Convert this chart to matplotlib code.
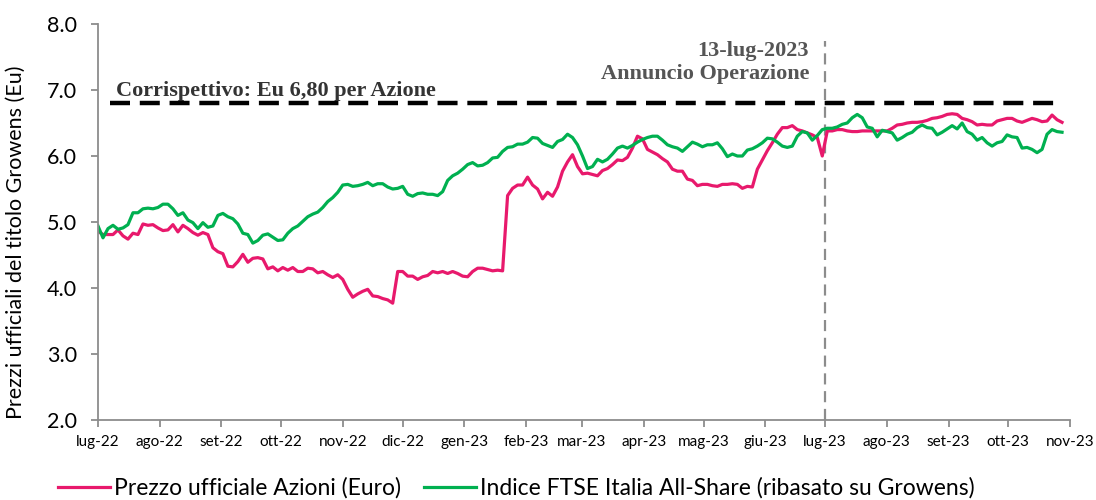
import matplotlib
matplotlib.use('Agg')
import matplotlib.pyplot as plt
import numpy as np
import pandas as pd

# values, one every ~2.5 days from 1 Jul 2022 to 28 Oct 2023
prezzo = [
    4.86, 4.81, 4.81, 4.81, 4.88, 4.79, 4.74, 4.83, 4.81, 4.97,
    4.95, 4.96, 4.91, 4.87, 4.88, 4.96, 4.85, 4.95, 4.90, 4.84,
    4.80, 4.84, 4.81, 4.61, 4.55, 4.52, 4.33, 4.32, 4.40, 4.51,
    4.39, 4.45, 4.46, 4.44, 4.29, 4.32, 4.26, 4.31, 4.27, 4.31,
    4.25, 4.25, 4.30, 4.29, 4.23, 4.25, 4.20, 4.16, 4.20, 4.13,
    3.98, 3.86, 3.91, 3.95, 3.98, 3.88, 3.87, 3.84, 3.82, 3.77,
    4.25, 4.25, 4.18, 4.18, 4.13, 4.17, 4.19, 4.25, 4.23, 4.25,
    4.22, 4.25, 4.22, 4.18, 4.17, 4.25, 4.30, 4.30, 4.28, 4.26,
    4.27, 4.26, 5.40, 5.51, 5.56, 5.56, 5.68, 5.56, 5.50, 5.35,
    5.45, 5.39, 5.53, 5.77, 5.91, 6.02, 5.84, 5.73, 5.74, 5.72,
    5.70, 5.78, 5.81, 5.87, 5.94, 5.93, 5.98, 6.12, 6.30, 6.26,
    6.10, 6.06, 6.02, 5.96, 5.91, 5.80, 5.77, 5.77, 5.65, 5.63,
    5.55, 5.57, 5.57, 5.55, 5.54, 5.57, 5.57, 5.58, 5.57, 5.51,
    5.54, 5.53, 5.80, 5.94, 6.08, 6.20, 6.33, 6.43, 6.43, 6.46,
    6.40, 6.38, 6.35, 6.32, 6.28, 6.00, 6.38, 6.38, 6.40, 6.40,
    6.38, 6.37, 6.37, 6.38, 6.38, 6.38, 6.38, 6.38, 6.38, 6.42,
    6.47, 6.48, 6.50, 6.51, 6.51, 6.52, 6.54, 6.57, 6.58, 6.60,
    6.63, 6.64, 6.63, 6.57, 6.55, 6.52, 6.47, 6.48, 6.47, 6.47,
    6.53, 6.55, 6.57, 6.57, 6.53, 6.51, 6.54, 6.57, 6.55, 6.52,
    6.53, 6.62, 6.55, 6.51,
]
ftse = [
    4.94, 4.76, 4.90, 4.95, 4.89, 4.91, 4.96, 5.14, 5.14, 5.20,
    5.21, 5.20, 5.22, 5.27, 5.27, 5.20, 5.10, 5.14, 5.03, 4.99,
    4.90, 4.99, 4.92, 4.94, 5.10, 5.13, 5.08, 5.05, 4.97, 4.83,
    4.81, 4.68, 4.72, 4.80, 4.82, 4.77, 4.72, 4.73, 4.83, 4.90,
    4.94, 5.01, 5.08, 5.12, 5.15, 5.22, 5.31, 5.37, 5.45, 5.56,
    5.57, 5.54, 5.55, 5.57, 5.60, 5.55, 5.58, 5.58, 5.53, 5.50,
    5.51, 5.54, 5.42, 5.39, 5.43, 5.44, 5.42, 5.42, 5.40, 5.46,
    5.63, 5.70, 5.74, 5.80, 5.87, 5.90, 5.85, 5.86, 5.90, 5.97,
    5.98, 6.07, 6.13, 6.14, 6.18, 6.18, 6.21, 6.28, 6.27, 6.19,
    6.16, 6.13, 6.22, 6.25, 6.33, 6.28, 6.17, 6.00, 5.81, 5.84,
    5.95, 5.91, 5.95, 6.03, 6.12, 6.15, 6.12, 6.16, 6.21, 6.25,
    6.28, 6.30, 6.30, 6.24, 6.17, 6.14, 6.12, 6.07, 6.14, 6.21,
    6.18, 6.14, 6.17, 6.17, 6.20, 6.11, 5.99, 6.03, 6.00, 6.00,
    6.09, 6.11, 6.15, 6.20, 6.27, 6.26, 6.21, 6.15, 6.13, 6.15,
    6.30, 6.37, 6.35, 6.24, 6.31, 6.40, 6.42, 6.42, 6.44, 6.48,
    6.50, 6.58, 6.63, 6.58, 6.44, 6.42, 6.29, 6.39, 6.37, 6.35,
    6.24, 6.28, 6.33, 6.36, 6.43, 6.47, 6.43, 6.42, 6.32, 6.36,
    6.41, 6.46, 6.41, 6.50, 6.37, 6.33, 6.24, 6.28, 6.20, 6.15,
    6.20, 6.22, 6.32, 6.29, 6.28, 6.12, 6.13, 6.10, 6.05, 6.10,
    6.33, 6.40, 6.37, 6.36,
]
mesi = ['lug-22', 'ago-22', 'set-22', 'ott-22', 'nov-22', 'dic-22', 'gen-23', 'feb-23',
        'mar-23', 'apr-23', 'mag-23', 'giu-23', 'lug-23', 'ago-23', 'set-23', 'ott-23', 'nov-23']
corrispettivo = 6.80

dates_p = pd.date_range('2022-07-01', '2023-10-28', periods=len(prezzo))
dates_f = pd.date_range('2022-07-01', '2023-10-28', periods=len(ftse))
month_ticks = pd.date_range('2022-07-01', '2023-11-01', freq='MS')

pink = '#E8196C'
green = '#00B050'
axis_grey = '#8C8C8C'

fig = plt.figure(figsize=(10.96, 5.0), dpi=100)
ax = fig.add_axes([98 / 1096, 80 / 500, 972 / 1096, 396 / 500])

ax.plot(dates_p, prezzo, color=pink, lw=2.3, label='Prezzo ufficiale Azioni (Euro)')
ax.plot(dates_f, ftse, color=green, lw=2.3, label='Indice FTSE Italia All-Share (ribasato su Growens)')

# offer price line
ax.hlines(corrispettivo, pd.Timestamp('2022-07-07'), dates_p[-1], colors='black',
          linestyles=(0, (4.5, 2.2)), lw=3.2, zorder=4)
ax.text(pd.Timestamp('2022-07-10'), corrispettivo + 0.04, 'Corrispettivo: Eu 6,80 per Azione',
        family='Liberation Serif', weight='bold', fontsize=16, color='#333333',
        ha='left', va='bottom')

# announcement marker, drawn at the lug-23 tick like the source chart
annuncio = pd.Timestamp('2023-07-01')
ax.vlines(annuncio, 2.0, 7.75, colors=axis_grey, linestyles=(0, (5, 3)), lw=1.6, zorder=1)
ax.text(annuncio - pd.Timedelta(days=8), 7.42, '13-lug-2023\nAnnuncio Operazione',
        family='Liberation Serif', weight='bold', fontsize=16, color='#555555',
        ha='right', va='center', multialignment='right', linespacing=1.2)

ax.set_xlim(month_ticks[0], month_ticks[-1])
ax.set_ylim(2.0, 8.0)
ax.set_yticks(np.arange(2.0, 8.01, 1.0))
ax.set_yticklabels([f'{v:.1f}' for v in np.arange(2.0, 8.01, 1.0)], family='Lato', fontsize=15.5)
ax.set_xticks(month_ticks)
ax.set_xticklabels(mesi, family='Lato', fontsize=11)
ax.set_ylabel('Prezzi ufficiali del titolo Growens (Eu)', family='Lato', fontsize=15.5)
ax.yaxis.set_label_coords(-0.074, 0.45)

for side in ['top', 'right']:
    ax.spines[side].set_visible(False)
for side in ['left', 'bottom']:
    ax.spines[side].set_color(axis_grey)
    ax.spines[side].set_linewidth(1.3)
ax.tick_params(axis='both', direction='out', color=axis_grey, width=1.3, length=5)
ax.tick_params(axis='y', pad=10)
ax.tick_params(axis='x', pad=6)

fig.legend(loc='center', bbox_to_anchor=(516 / 1096, 12 / 500), ncol=2, frameon=False,
           prop={'family': 'Lato', 'size': 16.5}, handlelength=2.3, columnspacing=1.0,
           handletextpad=0.15)

fig.savefig('out.png', dpi=100)
